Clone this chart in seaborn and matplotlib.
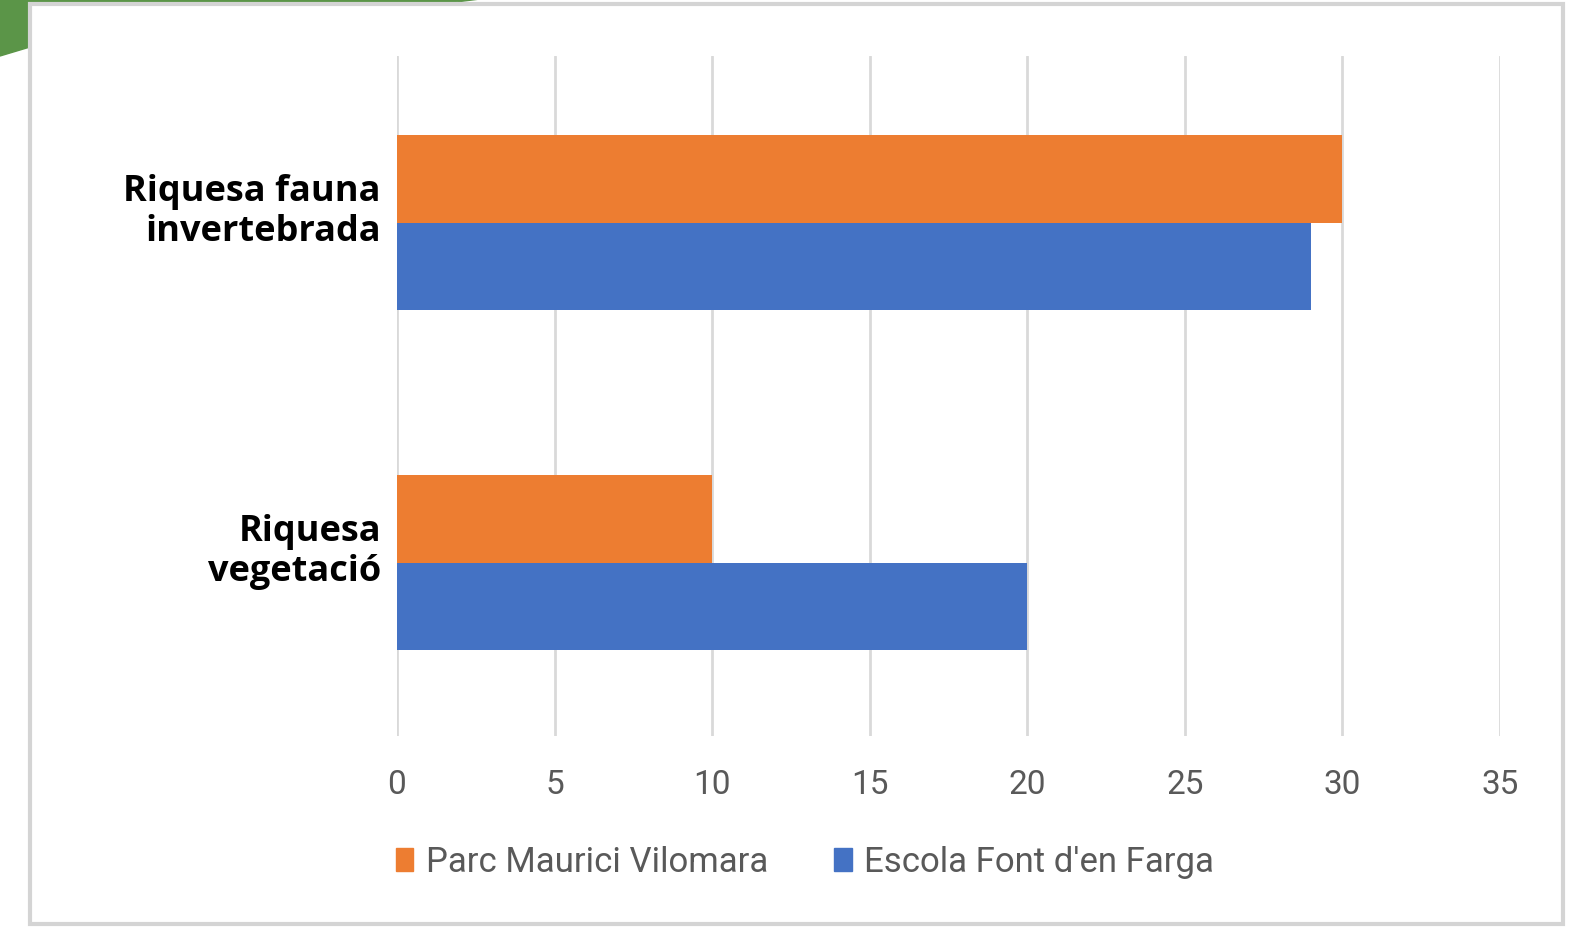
import matplotlib
matplotlib.use("Agg")
import matplotlib.pyplot as plt
import matplotlib.patches as mpatches
import matplotlib.transforms as mtransforms
import seaborn as sns
import pandas as pd

# Data
categories = ["Riquesa fauna\ninvertebrada", "Riquesa\nvegetació"]
parc_values = [30, 10]
escola_values = [29, 20]
series = ["Parc Maurici Vilomara", "Escola Font d'en Farga"]
colors = ["#ED7D31", "#4472C4"]
xticks = [0, 5, 10, 15, 20, 25, 30, 35]

df = pd.DataFrame({
    "categoria": categories * 2,
    "valor": parc_values + escola_values,
    "serie": [series[0]] * 2 + [series[1]] * 2,
})

sns.set_style("white")
plt.rcParams["font.family"] = ["Open Sans", "DejaVu Sans"]

W, H = 1569, 928
fig = plt.figure(figsize=(W / 100, H / 100), dpi=100)

# decorative green corner and frame
green = mpatches.Polygon([[0 / W, 1], [480 / W, 1], [440 / W, 1 - 5 / H], [30 / W, 1 - 5 / H],
                          [30 / W, 1 - 48 / H], [0, 1 - 57 / H]],
                         closed=True, transform=fig.transFigure, color="#5B9548", zorder=-3)
fig.patches.append(green)
frame = mpatches.Rectangle((30 / W, 3 / H), 1533 / W, 920 / H, transform=fig.transFigure,
                           facecolor="white", edgecolor="#D4D4D4", linewidth=3, zorder=-2)
fig.patches.append(frame)

ax = fig.add_axes([397 / W, 1 - 737 / H, (1500 - 397) / W, (737 - 57) / H])
ax.set_facecolor("none")

sns.barplot(data=df, x="valor", y="categoria", hue="serie", hue_order=series,
            palette=colors, orient="h", width=0.515, saturation=1, linewidth=0,
            ax=ax, legend=False)

ax.set_xlim(0, 35)
ax.set_ylim(1.51, -0.49)
ax.set_xticks(xticks)
ax.set_xticklabels([str(t) for t in xticks], color="#595959", fontsize=24, family=["Roboto", "DejaVu Sans"])
ax.tick_params(axis="x", length=0, pad=23)
ax.tick_params(axis="y", length=0, labelleft=False)

# category labels, nudged slightly above the group centre like the original
off = mtransforms.ScaledTranslation(-16 / 100, 12 / 100, fig.dpi_scale_trans)
trans = mtransforms.blended_transform_factory(ax.transAxes, ax.transData) + off
for pos, cat in zip(ax.get_yticks(), categories):
    ax.text(0, pos, cat, transform=trans, ha="right", va="center", fontsize=26,
            fontweight="bold", color="black", linespacing=1.15)

ax.xaxis.grid(True, color="#D9D9D9", linewidth=2)
ax.set_axisbelow(True)
for s in ax.spines.values():
    s.set_visible(False)
ax.set_xlabel("")
ax.set_ylabel("")

handles = [mpatches.Patch(color=c, label=l) for c, l in zip(colors, series)]
leg = fig.legend(handles=handles, loc="center", bbox_to_anchor=(805 / W, 1 - 863 / H), ncol=2,
                 frameon=False, handlelength=0.5, handleheight=0.65, handletextpad=0.37,
                 columnspacing=1.9, prop={"family": ["Roboto", "DejaVu Sans"], "size": 25})
for t in leg.get_texts():
    t.set_color("#595959")

fig.savefig("out.png", dpi=100)
